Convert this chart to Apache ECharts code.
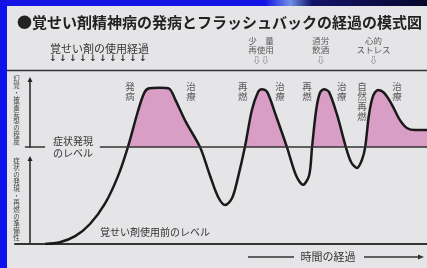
<!DOCTYPE html>
<html>
<head>
<meta charset="utf-8">
<script src="https://cdn.jsdelivr.net/npm/echarts@6/dist/echarts.min.js"></script>
<style>
html, body { margin: 0; padding: 0; }
#chart {
  width: 427px;
  height: 268px;
  background:
    linear-gradient(#e5e5e7, #e5e5e7) 7px 6px / 420px 262px no-repeat,
    linear-gradient(to right, #1414e4 0%, #1414e4 62%, #6f8fe6 68%, #14146a 73%, #06062c 100%) 0 0 / 100% 6px no-repeat,
    #0c12ee;
}
</style>
</head>
<body>
<div id="chart"></div>
<script>
// 経過の曲線 (time 0-100, level 0-100, 0 = 覚せい剤使用前のレベル)
const time = [7.3, 10.9, 14.6, 18.2, 21.8, 25.0, 27.4, 29.8, 31.4, 32.6,
  35.2, 37.4, 38.9, 41.5, 44.9, 47.3, 49.3, 51.0, 52.7, 54.1,
  55.8, 57.5, 59.0, 59.9, 61.2, 63.3, 66.0, 68.2, 69.9, 71.4,
  72.1, 73.1, 74.0, 75.0, 76.2, 78.2, 80.3, 81.6, 83.0, 84.2,
  85.0, 85.9, 86.9, 88.1, 89.6, 91.5, 93.4, 95.1, 97.1, 100];
const level = [0, 1, 4.5, 11.5, 23, 39, 55.7, 76, 87, 89.5,
  89.8, 89.3, 83, 70, 55.7, 39.5, 27, 22.4, 26.4, 38,
  55.7, 77, 87.4, 89, 87.4, 74, 55.7, 39.5, 34, 39.5,
  55.7, 77, 86.8, 89, 87.4, 74, 55.7, 47, 43.7, 48.3,
  55.7, 74, 85, 88.5, 86.8, 80, 71.3, 66.7, 65.5, 65.5];
const threshold = 55.7; // 症状発現のレベル
const thresholdSpans = [[2.4, 7.3], [20.6, 100]];

const eventNames = ["発病", "治療", "再燃", "治療", "再燃", "治療", "自然再燃", "治療"];
const eventTime = [27.9, 42.7, 55.3, 64.3, 70.9, 79.3, 84.2, 92.7];
const eventLevel = [87.5, 87.5, 87.5, 87.5, 87.5, 87.5, 82, 87.5];

const triggerNames = ["少　量\n再使用\n⇩⇩", "過労\n飲酒\n⇩", "心的\nストレス\n⇩"];
const triggerTime = [59.7, 74.2, 87.0];
const triggerLevel = [111.5, 111.5, 111.5];

const PINK = "#d99ec6";
const FONT = "Noto Sans CJK JP";

const vert = (s) => s.split("").join("\n");

const chart = echarts.init(document.getElementById("chart"));

const curve = time.map((t, i) => [t, level[i]]);

const graphics = [];
// top rule
graphics.push({ type: "line", shape: { x1: 7, y1: 70.5, x2: 427, y2: 70.5 }, style: { stroke: "#333", lineWidth: 1.5 } });
// use history header
graphics.push({ type: "text", x: 50, y: 49, style: { text: "覚せい剤の使用経過", font: "11px " + FONT, fill: "#333", verticalAlign: "middle" } });
for (let i = 0; i < 10; i++) {
  graphics.push({ type: "text", x: 53 + i * 10, y: 59, style: { text: "↓", font: "bold 9px DejaVu Sans", fill: "#333", align: "center", verticalAlign: "middle" } });
}
// left vertical axes
const vArrow = (x, yTop, yBot) => [
  { type: "line", shape: { x1: x, y1: yTop + 3, x2: x, y2: yBot }, style: { stroke: "#222", lineWidth: 1.5 } },
  { type: "polygon", shape: { points: [[x, yTop], [x - 2.5, yTop + 5], [x + 2.5, yTop + 5]] }, style: { fill: "#222" } },
];
graphics.push(...vArrow(30, 77, 148), ...vArrow(30, 156, 244));
graphics.push({ type: "text", x: 16.5, y: 110, style: { text: vert("幻覚・被害妄想の程度"), font: "6.5px " + FONT, lineHeight: 7, fill: "#444", align: "center", verticalAlign: "middle" } });
graphics.push({ type: "text", x: 16.5, y: 199, style: { text: vert("症状の発現・再燃の準備性"), font: "6.5px " + FONT, lineHeight: 7, fill: "#444", align: "center", verticalAlign: "middle" } });
// level labels
graphics.push({ type: "text", x: 53, y: 147, style: { text: "症状発現\nのレベル", font: "10px " + FONT, lineHeight: 12, fill: "#333", verticalAlign: "middle" } });
graphics.push({ type: "text", x: 100, y: 232, style: { text: "覚せい剤使用前のレベル", font: "10px " + FONT, fill: "#333", verticalAlign: "middle" } });
// time arrow
graphics.push({ type: "line", shape: { x1: 248, y1: 257, x2: 294, y2: 257 }, style: { stroke: "#333", lineWidth: 1.5 } });
graphics.push({ type: "text", x: 328, y: 257, style: { text: "時間の経過", font: "11px " + FONT, fill: "#333", align: "center", verticalAlign: "middle" } });
graphics.push({ type: "line", shape: { x1: 364, y1: 257, x2: 420, y2: 257 }, style: { stroke: "#333", lineWidth: 1.5 } });
graphics.push({ type: "polygon", shape: { points: [[424, 257], [418, 254.5], [418, 259.5]] }, style: { fill: "#333" } });

chart.setOption({
  animation: false,
  textStyle: { fontFamily: FONT },
  title: {
    text: "●覚せい剤精神病の発病とフラッシュバックの経過の模式図",
    left: 12,
    top: 10,
    textStyle: { fontSize: 15, fontWeight: "bold", color: "#222", fontFamily: FONT },
  },
  grid: { left: 15, right: 0, top: 70, bottom: 24 },
  xAxis: {
    type: "value",
    min: 0,
    max: 100,
    axisLine: { show: true, lineStyle: { color: "#333", width: 2 } },
    axisTick: { show: false },
    axisLabel: { show: false },
    splitLine: { show: false },
  },
  yAxis: { type: "value", min: 0, max: 100, show: false },
  graphic: graphics,
  series: [
    {
      type: "line",
      data: curve,
      smooth: 0.3,
      symbol: "none",
      lineStyle: { width: 0, opacity: 0 },
      areaStyle: { opacity: 1, color: PINK },
      silent: true,
      z: 1,
    },
    {
      type: "line",
      data: curve,
      smooth: 0.3,
      symbol: "none",
      lineStyle: { color: "#1a1a1a", width: 2.5 },
      silent: true,
      z: 3,
      markLine: {
        silent: true,
        symbol: "none",
        label: { show: false },
        lineStyle: { color: "#333", width: 1.5, type: "solid" },
        data: thresholdSpans.map((s) => [{ coord: [s[0], threshold] }, { coord: [s[1], threshold] }]),
      },
    },
    {
      type: "scatter",
      data: eventNames.map((n, i) => ({ name: n, value: [eventTime[i], eventLevel[i]] })),
      symbolSize: 1,
      itemStyle: { color: "rgba(0,0,0,0)" },
      silent: true,
      z: 4,
      label: {
        show: true,
        position: "inside",
        formatter: (p) => vert(p.name),
        fontSize: 9.5,
        lineHeight: 10,
        color: "#333",
      },
    },
    {
      type: "scatter",
      data: triggerNames.map((n, i) => ({ name: n, value: [triggerTime[i], triggerLevel[i]] })),
      symbolSize: 1,
      clip: false,
      itemStyle: { color: "rgba(0,0,0,0)" },
      silent: true,
      z: 4,
      label: {
        show: true,
        position: "inside",
        formatter: "{b}",
        fontSize: 8.5,
        lineHeight: 9.5,
        color: "#333",
        align: "center",
      },
    },
  ],
});

// pink only above the 症状発現 level: hard-stop gradient in page coordinates
const thrY = chart.convertToPixel({ yAxisIndex: 0 }, threshold);
const f = thrY / 268;
chart.setOption({
  series: [{
    areaStyle: {
      opacity: 1,
      color: {
        type: "linear", x: 0, y: 0, x2: 0, y2: 268, global: true,
        colorStops: [
          { offset: 0, color: PINK },
          { offset: f, color: PINK },
          { offset: f, color: "rgba(0,0,0,0)" },
          { offset: 1, color: "rgba(0,0,0,0)" },
        ],
      },
    },
  }],
});
</script>
</body>
</html>
